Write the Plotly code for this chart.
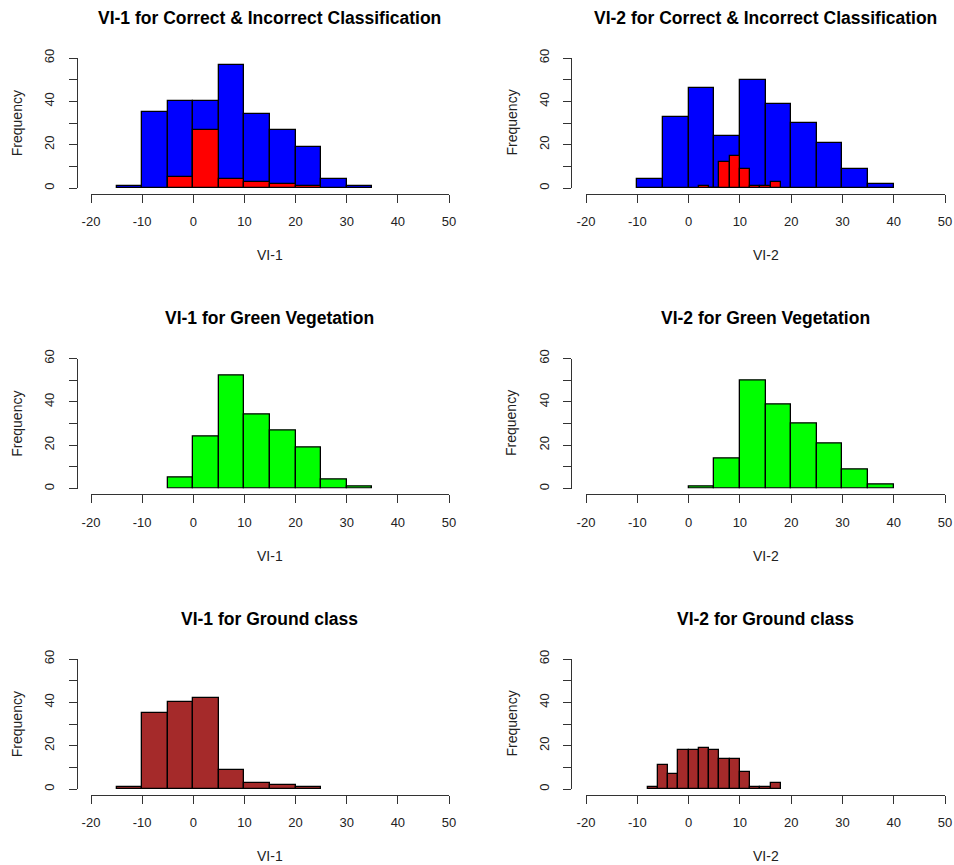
import plotly.graph_objects as go

W, H = 954, 865

# ---------------- data (bin edges incl. right end, counts) ----------------
vi1_all_edges = [-15, -10, -5, 0, 5, 10, 15, 20, 25, 30, 35]
vi1_all_counts = [1, 35, 40, 40, 57, 34, 27, 19, 4, 1]
vi1_wrong_edges = [-5, 0, 5, 10, 15, 20, 25]
vi1_wrong_counts = [5, 27, 4, 3, 2, 1]

vi2_all_edges = [-10, -5, 0, 5, 10, 15, 20, 25, 30, 35, 40]
vi2_all_counts = [4, 33, 46, 24, 50, 39, 30, 21, 9, 2]
vi2_wrong_edges = [2, 4, 6, 8, 10, 12, 14, 16, 18]
vi2_wrong_counts = [1, 0, 12, 15, 9, 1, 1, 3]

vi1_green_edges = [-5, 0, 5, 10, 15, 20, 25, 30, 35]
vi1_green_counts = [5, 24, 52, 34, 27, 19, 4, 1]
vi2_green_edges = [0, 5, 10, 15, 20, 25, 30, 35, 40]
vi2_green_counts = [1, 14, 50, 39, 30, 21, 9, 2]

vi1_ground_edges = [-15, -10, -5, 0, 5, 10, 15, 20, 25]
vi1_ground_counts = [1, 35, 40, 42, 9, 3, 2, 1]
vi2_ground_edges = [-8, -6, -4, -2, 0, 2, 4, 6, 8, 10, 12, 14, 16, 18]
vi2_ground_counts = [1, 11, 7, 18, 18, 19, 18, 14, 14, 8, 1, 1, 3]

x_ticks = [-20, -10, 0, 10, 20, 30, 40, 50]
x_ticklabels = ["-20", "-10", "0", "10", "20", "30", "40", "50"]
y_ticks = [0, 10, 20, 30, 40, 50, 60]
y_ticklabels = ["0", "", "20", "", "40", "", "60"]

titles = [
    "VI-1 for Correct & Incorrect Classification",
    "VI-2 for Correct & Incorrect Classification",
    "VI-1 for Green Vegetation",
    "VI-2 for Green Vegetation",
    "VI-1 for Ground class",
    "VI-2 for Ground class",
]
xlabels = ["VI-1", "VI-2", "VI-1", "VI-2", "VI-1", "VI-2"]
ylabel = "Frequency"

BLUE, RED, GREEN, BROWN = "#0000FF", "#FF0000", "#00FF00", "#A52A2A"

panel_series = [
    [(vi1_all_edges, vi1_all_counts, BLUE), (vi1_wrong_edges, vi1_wrong_counts, RED)],
    [(vi2_all_edges, vi2_all_counts, BLUE), (vi2_wrong_edges, vi2_wrong_counts, RED)],
    [(vi1_green_edges, vi1_green_counts, GREEN)],
    [(vi2_green_edges, vi2_green_counts, GREEN)],
    [(vi1_ground_edges, vi1_ground_counts, BROWN)],
    [(vi2_ground_edges, vi2_ground_counts, BROWN)],
]

# ---------------- layout geometry (pixels) ----------------
col_x = [(91, 449), (586, 945)]      # pixel x of -20 and 50
col_yaxis = [76.7, 571.0]            # pixel x of y-axis line
col_center = [269.5, 765.5]
row_y0 = [188.0, 488.5, 789.0]       # pixel y of count 0
row_h = 130.0                        # pixels for 60 counts

FONT = "Liberation Sans, Arial, Helvetica, sans-serif"
AXC = "#333333"

fig = go.Figure()
layout = dict(
    template="none",
    width=W, height=H,
    margin=dict(l=0, r=0, t=0, b=0, pad=0, autoexpand=False),
    plot_bgcolor="white", paper_bgcolor="white",
    showlegend=False, barmode="overlay", bargap=0,
    font=dict(family=FONT, color="#222222"),
)
annotations = []

for i in range(6):
    r, c = divmod(i, 2)
    sfx = "" if i == 0 else str(i + 1)
    xa, ya = "x" + sfx, "y" + sfx
    for edges, counts, col in panel_series[i]:
        lefts = edges[:-1]
        widths = [b - a for a, b in zip(edges[:-1], edges[1:])]
        fig.add_trace(go.Bar(
            x=lefts, y=counts, width=widths, offset=0,
            marker=dict(color=col, line=dict(color="black", width=1.3)),
            opacity=1, xaxis=xa, yaxis=ya, hoverinfo="skip",
        ))
    x0p, x1p = col_x[c]
    y0p = row_y0[r]
    y60p = y0p - row_h
    layout["xaxis" + sfx] = dict(
        domain=[x0p / W, x1p / W], range=[-20, 50], anchor="free",
        position=1 - (y0p + 5.5) / H, automargin=False,
        showline=True, linecolor=AXC, linewidth=1.2,
        ticks="outside", ticklen=8, tickwidth=1.2, tickcolor=AXC,
        tickvals=x_ticks, ticktext=x_ticklabels,
        tickfont=dict(size=13, color="#222222", family=FONT),
        ticklabelstandoff=8,
        showgrid=False, zeroline=False,
    )
    layout["yaxis" + sfx] = dict(
        domain=[1 - y0p / H, 1 - y60p / H], range=[0, 60], anchor="free",
        position=col_yaxis[c] / W, side="left", automargin=False,
        showline=True, linecolor=AXC, linewidth=1.2,
        ticks="outside", ticklen=8, tickwidth=1.2, tickcolor=AXC,
        tickvals=y_ticks, ticktext=y_ticklabels, tickangle=-90,
        tickfont=dict(size=13, color="#222222", family=FONT),
        ticklabelstandoff=9,
        showgrid=False, zeroline=False,
    )
    # main title
    annotations.append(dict(
        text=titles[i], x=col_center[c] / W, y=1 - (y0p - 170) / H,
        xref="paper", yref="paper", showarrow=False,
        xanchor="center", yanchor="middle",
        font=dict(size=17.5, family=FONT, color="black", weight="bold"),
    ))
    # x label
    annotations.append(dict(
        text=xlabels[i], x=col_center[c] / W, y=1 - (y0p + 67) / H,
        xref="paper", yref="paper", showarrow=False,
        xanchor="center", yanchor="middle",
        font=dict(size=14, family=FONT, color="#222222"),
    ))
    # y label
    annotations.append(dict(
        text=ylabel, x=(col_yaxis[c] - 59.5) / W, y=1 - (y0p - row_h / 2) / H,
        xref="paper", yref="paper", showarrow=False, textangle=-90,
        xanchor="center", yanchor="middle",
        font=dict(size=14, family=FONT, color="#222222"),
    ))

layout["annotations"] = annotations
fig.update_layout(**layout)
fig.write_html("out.html")
